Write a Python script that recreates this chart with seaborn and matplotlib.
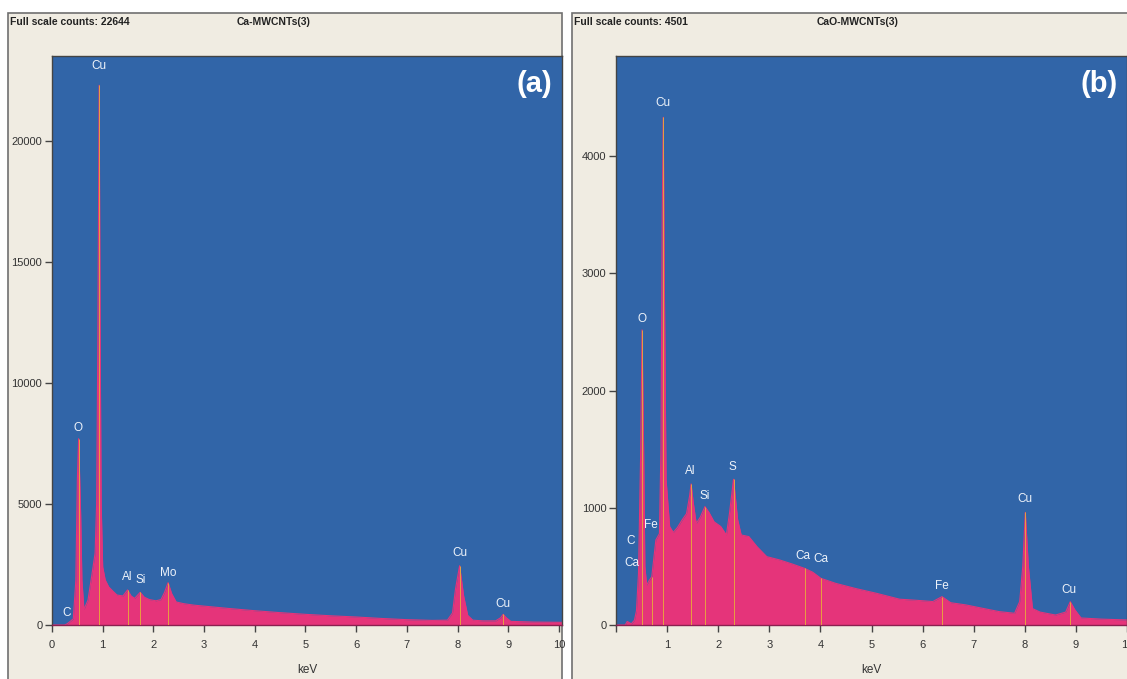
import numpy as np
import pandas as pd
import seaborn as sns
import matplotlib.pyplot as plt
from matplotlib.patches import Rectangle

# ---- spectrum (a): Ca-MWCNTs(3) ----
kev_a = [0.0, 0.25, 0.30, 0.36, 0.42, 0.47, 0.50, 0.525, 0.565, 0.59, 0.63, 0.71,
         0.78, 0.85, 0.88, 0.905, 0.93, 0.95, 0.97, 1.00, 1.05, 1.12, 1.20, 1.28,
         1.40, 1.49, 1.56, 1.63, 1.74, 1.82, 1.92, 2.05, 2.15, 2.22, 2.29, 2.36,
         2.45, 2.60, 2.80, 3.0, 3.5, 4.0, 4.5, 5.0, 5.5, 6.0, 6.5, 7.0, 7.5, 7.8,
         7.9, 7.96, 8.04, 8.12, 8.2, 8.3, 8.5, 8.75, 8.85, 8.9, 8.96, 9.05, 9.5, 10.06]
counts_a = [0, 0, 50, 150, 250, 1860, 6000, 7700, 4600, 1860, 640, 1030,
            1980, 2970, 5000, 12000, 22300, 12000, 5000, 2400, 1860, 1570, 1400, 1240,
            1200, 1450, 1200, 1100, 1350, 1150, 1050, 1000, 1050, 1350, 1750, 1300,
            950, 880, 820, 780, 680, 590, 510, 440, 380, 330, 270, 220, 190, 200,
            500, 1500, 2450, 1200, 400, 200, 170, 170, 300, 440, 300, 150, 120, 110]
lines_a = [0.525, 0.93, 1.49, 1.74, 2.29, 8.04, 8.9]
labels_a = ["C", "O", "Cu", "Al", "Si", "Mo", "Cu", "Cu"]
label_kev_a = [0.28, 0.52, 0.93, 1.49, 1.74, 2.30, 8.05, 8.90]
label_cnt_a = [500, 8140, 23100, 1980, 1860, 2150, 2975, 870]

# ---- spectrum (b): CaO-MWCNTs(3) ----
kev_b = [0.0, 0.18, 0.22, 0.26, 0.30, 0.36, 0.40, 0.44, 0.48, 0.51, 0.54, 0.565,
         0.60, 0.65, 0.70, 0.78, 0.85, 0.88, 0.905, 0.925, 0.945, 0.98, 1.05, 1.12,
         1.20, 1.30, 1.38, 1.44, 1.47, 1.51, 1.57, 1.65, 1.74, 1.82, 1.92, 2.05,
         2.16, 2.22, 2.30, 2.38, 2.45, 2.60, 2.76, 2.95, 3.2, 3.45, 3.69, 3.85,
         4.01, 4.3, 4.7, 5.1, 5.55, 5.9, 6.2, 6.38, 6.55, 6.85, 7.2, 7.5, 7.8,
         7.9, 7.96, 8.01, 8.07, 8.15, 8.3, 8.6, 8.8, 8.89, 8.98, 9.1, 9.5, 10.0]
counts_b = [0, 0, 30, 20, 10, 40, 120, 440, 1400, 2517, 1520, 500,
            340, 380, 412, 725, 780, 1520, 3500, 4330, 3000, 1240, 840, 790,
            830, 900, 950, 1100, 1203, 1050, 867, 920, 1010, 960, 880, 840,
            768, 950, 1243, 900, 768, 754, 668, 583, 555, 520, 483, 450,
            398, 355, 310, 270, 220, 210, 200, 242, 190, 171, 140, 114, 100,
            200, 500, 960, 500, 140, 110, 85, 110, 199, 130, 60, 50, 43]
lines_b = [0.51, 0.70, 0.925, 1.47, 1.74, 2.30, 3.69, 4.01, 6.38, 8.01, 8.89]
labels_b = ["C", "Ca", "O", "Fe", "Cu", "Al", "Si", "S", "Ca", "Ca", "Fe", "Cu", "Cu"]
label_kev_b = [0.28, 0.32, 0.50, 0.68, 0.91, 1.46, 1.73, 2.28, 3.65, 4.0, 6.37, 8.0, 8.87]
label_cnt_b = [717, 529, 2611, 853, 4454, 1314, 1100, 1348, 589, 563, 333, 1075, 299]

yticks_a = [0, 5000, 10000, 15000, 20000]
yticks_b = [0, 1000, 2000, 3000, 4000]
xticks = list(range(0, 11))

BLUE = "#3165a8"
PINK = "#e5347a"
ORANGE = "#e8a040"
BEIGE = "#f0ece2"
LABEL = "#eef3fa"
TICK = "#333333"

sns.set_theme(style="white")
plt.rcParams["font.family"] = ["Liberation Sans", "DejaVu Sans"]

W, H = 1127, 679
fig = plt.figure(figsize=(W / 100, H / 100), dpi=100)
fig.patch.set_facecolor("white")


def box(x0, y0, x1, y1):
    return [x0 / W, 1 - y1 / H, (x1 - x0) / W, (y1 - y0) / H]


for x0, x1 in [(8, 562), (572, 1128)]:
    fig.patches.append(Rectangle((x0 / W, -0.01), (x1 - x0) / W, 1.01 - 13 / H,
                                 transform=fig.transFigure, facecolor=BEIGE,
                                 edgecolor="#707070", lw=1.2, zorder=-10))


def draw_panel(ax, kev, counts, lines, labels, lab_kev, lab_cnt, xmax, ymax, yticks, xlabels, tag):
    df = pd.DataFrame({"keV": kev, "counts": counts})
    ax.set_facecolor(BLUE)
    ax.fill_between(df["keV"], df["counts"], color=PINK, lw=0, zorder=1)
    sns.lineplot(data=df, x="keV", y="counts", ax=ax, color=PINK, lw=0.8, sort=False, zorder=2)
    tops = np.interp(lines, kev, counts)
    ax.vlines(lines, 0, tops, color=ORANGE, lw=0.7, zorder=3)
    for t, x, y in zip(labels, lab_kev, lab_cnt):
        ax.text(x, y, t, color=LABEL, fontsize=8.5, ha="center", va="center", zorder=4)
    ax.text(0.945, 0.95, tag, transform=ax.transAxes, color="white", fontsize=21,
            fontweight="bold", ha="center", va="center")
    ax.set_xlim(0, xmax)
    ax.set_ylim(0, ymax)
    ax.set_xticks(xticks)
    ax.set_xticklabels(xlabels)
    ax.set_yticks(yticks)
    ax.set_yticklabels([str(v) for v in yticks])
    ax.tick_params(axis="both", direction="out", length=5, width=1, color="#444444",
                   labelsize=8, labelcolor=TICK, left=True, bottom=True)
    ax.tick_params(axis="x", pad=6)
    ax.tick_params(axis="y", pad=2)
    ax.set_xlabel("keV", fontsize=8.5, color=TICK, labelpad=10)
    ax.set_ylabel("")
    for s in ax.spines.values():
        s.set_color("#444444")
        s.set_linewidth(1)
    ax.spines["bottom"].set_color("#8a2050")


ax_a = fig.add_axes(box(52, 56, 562, 625))
draw_panel(ax_a, kev_a, counts_a, lines_a, labels_a, label_kev_a, label_cnt_a,
           10.06, 23510, yticks_a, [str(v) for v in xticks], "(a)")

ax_b = fig.add_axes(box(616, 56, 1127, 625))
draw_panel(ax_b, kev_b, counts_b, lines_b, labels_b, label_kev_b, label_cnt_b,
           10.0, 4853, yticks_b, [""] + [str(v) for v in xticks[1:]], "(b)")

head = dict(fontsize=7.5, color="#222222", fontweight="bold", va="center")
fig.text(10 / W, 1 - 22 / H, "Full scale counts: 22644", ha="left", **head)
fig.text(274 / W, 1 - 22 / H, "Ca-MWCNTs(3)", ha="center", **head)
fig.text(574 / W, 1 - 22 / H, "Full scale counts: 4501", ha="left", **head)
fig.text(858 / W, 1 - 22 / H, "CaO-MWCNTs(3)", ha="center", **head)

fig.savefig("out.png", dpi=100, facecolor=fig.get_facecolor())
